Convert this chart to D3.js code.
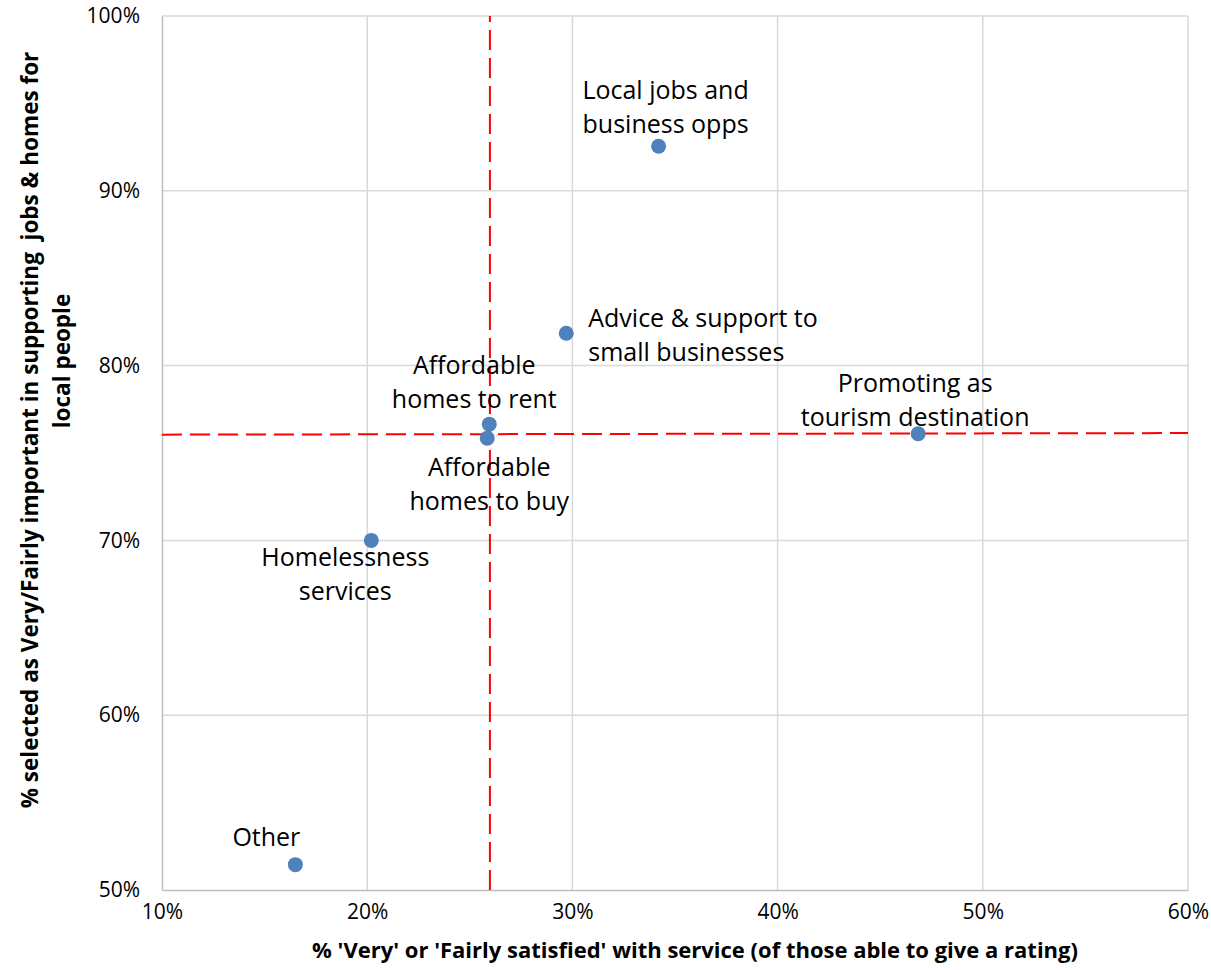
<!DOCTYPE html>
<html>
<head>
<meta charset="utf-8">
<script src="https://cdn.jsdelivr.net/npm/d3@7"></script>
<style>
  body { margin: 0; background: #fff; }
  svg text { font-family: "Open Sans", sans-serif; fill: #000; }
</style>
</head>
<body>
<div id="chart"></div>
<script>
// Data
const services = ["Local jobs and business opps", "Advice & support to small businesses",
  "Promoting as tourism destination", "Affordable homes to rent", "Affordable homes to buy",
  "Homelessness services", "Other"];
const satisfied = [34.2, 29.7, 46.85, 25.95, 25.85, 20.2, 16.5];
const important = [92.55, 81.85, 76.1, 76.65, 75.85, 70.0, 51.45];
const labelLines = [["Local jobs and", "business opps"], ["Advice & support to", "small businesses"],
  ["Promoting as", "tourism destination"], ["Affordable", "homes to rent"], ["Affordable", "homes to buy"],
  ["Homelessness", "services"], ["Other"]];
const xTicks = [10, 20, 30, 40, 50, 60];
const yTicks = [50, 60, 70, 80, 90, 100];
// reference lines (averages)
const vLine = [[25.98, 50], [25.98, 100]];
const hLine = [[10, 76.05], [60, 76.14]];

// label placement relative to the point (px), text-anchor
const labelPos = [
  {dx: 7, dy: -56, anchor: "middle"},
  {dx: 22, dy: -15, anchor: "start"},
  {dx: -3, dy: -51, anchor: "middle"},
  {dx: -15, dy: -59, anchor: "middle"},
  {dx: 2, dy: 29, anchor: "middle"},
  {dx: -26, dy: 17, anchor: "middle"},
  {dx: -29, dy: -27, anchor: "middle"}
];

const W = 1211, H = 970;
const margin = {top: 16, right: 23, bottom: 80, left: 162};
const width = W - margin.left - margin.right,
      height = H - margin.top - margin.bottom;

const svg = d3.select("#chart").append("svg")
    .attr("width", W).attr("height", H);
const g = svg.append("g")
    .attr("transform", `translate(${margin.left},${margin.top})`);

const x = d3.scaleLinear().domain([10, 60]).range([0, width]);
const y = d3.scaleLinear().domain([50, 100]).range([height, 0]);

// Gridlines
g.append("g").selectAll("line").data(xTicks.slice(1)).join("line")
    .attr("x1", d => x(d)).attr("x2", d => x(d))
    .attr("y1", 0).attr("y2", height)
    .attr("stroke", "#d9d9d9").attr("stroke-width", 1.5);
g.append("g").selectAll("line").data(yTicks.slice(1)).join("line")
    .attr("x1", 0).attr("x2", width)
    .attr("y1", d => y(d)).attr("y2", d => y(d))
    .attr("stroke", "#d9d9d9").attr("stroke-width", 1.5);

// Axes
const xAxis = g.append("g")
    .attr("transform", `translate(0,${height})`)
    .call(d3.axisBottom(x).tickValues(xTicks).tickSize(0).tickPadding(20).tickFormat(d => d + "%"));
const yAxis = g.append("g")
    .call(d3.axisLeft(y).tickValues(yTicks).tickSize(0).tickPadding(22).tickFormat(d => d + "%"));
[xAxis, yAxis].forEach(a => {
  a.select(".domain").attr("stroke", "#bfbfbf").attr("stroke-width", 1.5);
  a.selectAll("text").style("font-size", "21px").style("font-family", "'Open Sans', sans-serif");
});
xAxis.selectAll("text").attr("dy", "0.45em");
yAxis.selectAll("text").attr("dy", "0.32em");

// Axis titles
svg.append("text")
    .attr("x", 695).attr("y", 958)
    .attr("text-anchor", "middle")
    .style("font-size", "22px").style("font-weight", "bold")
    .text("% 'Very' or 'Fairly satisfied' with service (of those able to give a rating)");

const yt = svg.append("text")
    .attr("transform", "rotate(-90)")
    .attr("text-anchor", "middle")
    .style("white-space", "pre")
    .style("font-size", "22.5px").style("font-weight", "bold");
yt.append("tspan").attr("x", -430).attr("y", 38).text("% selected as Very/Fairly important in supporting  jobs & homes for");
yt.append("tspan").attr("x", -361).attr("y", 70).text("local people");

// Reference lines
const line = d3.line().x(d => x(d[0])).y(d => y(d[1]));
[vLine, hLine].forEach(l => {
  g.append("path").datum(l)
    .attr("d", line)
    .attr("fill", "none")
    .attr("stroke", "#ff0000")
    .attr("stroke-width", 2)
    .attr("stroke-dasharray", "20,8");
});

// Points
const data = services.map((s, i) => ({name: s, x: satisfied[i], y: important[i], lines: labelLines[i], pos: labelPos[i]}));
g.append("g").selectAll("circle").data(data).join("circle")
    .attr("cx", d => x(d.x)).attr("cy", d => y(d.y))
    .attr("r", 7.5)
    .attr("fill", "#4f81bd");

// Labels
const lbl = g.append("g").selectAll("text").data(data).join("text")
    .attr("text-anchor", d => d.pos.anchor)
    .style("font-size", "25px");
lbl.each(function(d) {
  const t = d3.select(this);
  d.lines.forEach((ln, j) => {
    t.append("tspan")
      .attr("x", x(d.x) + d.pos.dx)
      .attr("y", y(d.y) + d.pos.dy + j * 34)
      .attr("dy", "0.35em")
      .text(ln);
  });
});
</script>
</body>
</html>
